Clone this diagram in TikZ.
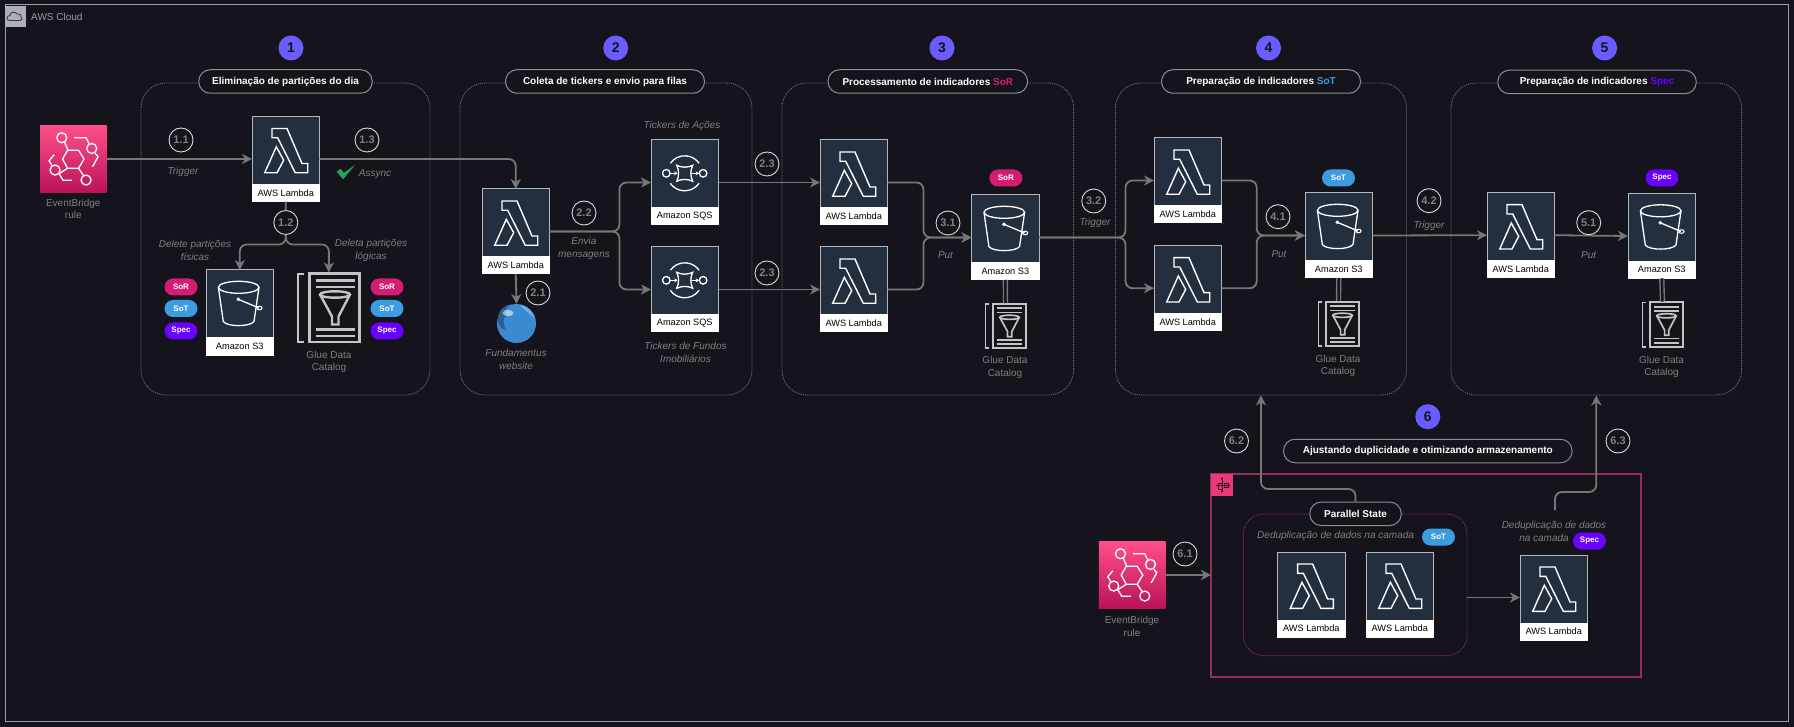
\documentclass[tikz,border=0pt]{standalone}
\usepackage{fontspec}
\setmainfont{Liberation Sans}
\usetikzlibrary{arrows.meta}
\definecolor{bgc}{HTML}{15131B}
\definecolor{darkc}{HTML}{232F3E}
\definecolor{conc}{HTML}{777777}
\definecolor{graytxt}{HTML}{808080}
\definecolor{sorc}{HTML}{D41D72}
\definecolor{sotc}{HTML}{3D9BE0}
\definecolor{specc}{HTML}{6A00FF}
\definecolor{purc}{HTML}{6A5CFF}
\definecolor{redc}{HTML}{96305A}
\definecolor{gluec}{HTML}{C4C4C4}
\definecolor{pinkt}{HTML}{FF4F8B}
\definecolor{pinkb}{HTML}{BC1356}
\definecolor{HTMLg}{HTML}{3B8AD0}
\definecolor{HTMLd}{HTML}{2A5F94}
\definecolor{HTMLl}{HTML}{6FB2E6}
\definecolor{HTMLc}{HTML}{2E9E5B}
\definecolor{HTMLz}{HTML}{6E6E6E}
\definecolor{HTMLp}{HTML}{8C8C8C}
\definecolor{HTMLn}{HTML}{D9D9D9}
\tikzset{
 x=1pt,y=-1pt,
 svcbox/.style={draw=white,fill=white,line width=1pt,minimum width=67.5pt,minimum height=85pt,inner sep=0pt,outer sep=0pt},
 svclab/.style={font=\fontsize{9.2}{10}\selectfont,text=black,inner sep=0pt},
 conn/.style={draw=conc,line width=1.8pt,rounded corners=7pt,-{Stealth[length=10pt,width=10pt,inset=3pt]}},
 connp/.style={draw=conc,line width=1.8pt,rounded corners=7pt},
 dbl/.style={draw=conc,line width=1.4pt,double=bgc,double distance=2.5pt},
 zone/.style={draw=HTMLz,line width=.9pt,dash pattern=on 1pt off 1pt,rounded corners=25pt,inner sep=0pt},
 pill/.style={draw=HTMLp,fill=bgc,line width=1pt,rounded corners=11.5pt,minimum height=23.5pt,inner sep=0pt,font=\fontsize{10}{12}\selectfont\bfseries,text=white},
 numc/.style={circle,draw=HTMLn,line width=.9pt,fill=bgc,minimum size=24pt,inner sep=0pt,font=\fontsize{11}{12}\selectfont\bfseries,text=graytxt},
 bigc/.style={circle,fill=purc,minimum size=25pt,inner sep=0pt,font=\fontsize{14}{14}\selectfont\bfseries,text=bgc},
 lab/.style={font=\fontsize{10}{12.5}\selectfont,text=graytxt,align=center,inner sep=0pt},
 ilab/.style={font=\fontsize{10}{13}\selectfont\itshape,text=graytxt,align=center,inner sep=0pt},
 tag/.style={rounded corners=8.5pt,minimum width=33pt,minimum height=17pt,inner sep=0pt,text=white,font=\fontsize{8}{9}\selectfont\bfseries},
 tagsor/.style={tag,fill=sorc},
 tagsot/.style={tag,fill=sotc},
 tagspec/.style={tag,fill=specc},
 pics/lambdaicon/.style={code={
  \draw[white,line width=1.4pt,line join=miter]
   (20,12)--(35,12)--(50,47)--(55.7,47)--(55.7,56.3)--(43.3,56.3)--(25.7,21.3)--(20,21.3)--cycle;
  \draw[white,line width=1.4pt,line join=miter]
   (24.3,30.3)--(12.7,56.3)--(25,56.3)--(31.7,43.7)--cycle;
 }},
 pics/bucketicon/.style={code={
  \draw[white,line width=1.3pt] (32.7,17.3) ellipse [x radius=20.3,y radius=6];
  \draw[white,line width=1.3pt] (12.4,17.3) -- (17.3,51.5) .. controls (21,57) and (44,57) .. (48,51.5) -- (53,17.3);
  \draw[white,line width=1.3pt] (32.3,29.3) -- (53,38);
  \fill[white] (32.3,29.3) circle (1.9);
  \draw[white,line width=1pt] (53.5,38) ellipse [x radius=2.6,y radius=1.8];
 }},
 pics/sqsicon/.style={code={
  \begin{scope}[shift={(33.7,33.3)}]
  \draw[white,line width=1.3pt] (-14.4,-10) arc[start angle=215,end angle=325,radius=17.6];
  \draw[white,line width=1.3pt] (14.4,10) arc[start angle=35,end angle=145,radius=17.6];
  \draw[white,line width=1.3pt] (-18.4,0) circle (3.8);
  \draw[white,line width=1.3pt] (18.4,0) circle (3.8);
  \draw[white,line width=1.3pt] (-8,-8) .. controls (-3,-5.5) and (3,-5.5) .. (8,-8) .. controls (5.5,-3) and (5.5,3) .. (8,8) .. controls (3,5.5) and (-3,5.5) .. (-8,8) .. controls (-5.5,3) and (-5.5,-3) .. cycle;
  \draw[white,line width=1.1pt,-{Stealth[length=3.5pt,width=4pt]}] (-14.4,0) -- (-7,0);
  \draw[white,line width=1.1pt,-{Stealth[length=3.5pt,width=4pt]}] (7,0) -- (14.4,0);
  \end{scope}
 }},
 pics/ebicon/.style={code={
  \fill[top color=pinkt,bottom color=pinkb] (0,0) rectangle (66.5,66.5);
  \begin{scope}[white,line width=1.3pt]
  \draw (22.5,33.3)--(27.5,24.5)--(38.5,24.5)--(44,33.3)--(38.5,42.5)--(27.5,42.5)--cycle;
  \draw (21.7,12) circle (5);
  \draw (51.7,22.7) circle (5);
  \draw (15,44.3) circle (5);
  \draw (46,54.3) circle (5);
  \draw (24.5,16.5)--(28,24.5);
  \draw (34,12)--(46,12)--(49,18);
  \draw (55,27.5)--(58,31)--(52.5,41);
  \draw (14,29)--(9,35)--(12,40);
  \draw (19,48)--(23,54.5)--(32,54.5);
  \draw (38.5,42.5)--(43.5,50);
  \draw (19,48)--(27.5,42.5);
  \end{scope}
 }},
 pics/glueicon/.style={code={
  \begin{scope}[gluec]
  \draw[line width=#1*2.4pt] (7.3,1.3)--(1.3,1.3)--(1.3,69.7)--(7.3,69.7);
  \draw[line width=#1*2.8pt] (13,1.4) rectangle (63.3,69.6);
  \draw[line width=#1*2.6pt] (19,8)--(58,8);
  \draw[line width=#1*2.6pt] (19,14.5)--(58,14.5);
  \draw[line width=#1*2.6pt] (19,57)--(58,57);
  \draw[line width=#1*2.6pt] (19,63.5)--(58,63.5);
  \draw[line width=#1*2.4pt] (38.5,22) ellipse [x radius=15,y radius=3.2];
  \draw[line width=#1*2.4pt] (23.5,22)--(35.5,44)--(35.5,52)--(42,52)--(42,44)--(53.5,22);
  \end{scope}
 }},
 pics/glueicon/.default=1,
}
% service block: name, left, top, label, icon
\newcommand{\svc}[5]{%
 \node[svcbox] (#1) at (#2+33.75,#3+42.5) {};
 \fill[darkc] (#1.north west) rectangle ([yshift=-67.5pt]#1.north east);
 \draw[white!72!black,line width=1pt] ([yshift=-67.5pt]#1.north west) -- (#1.north west) -- (#1.north east) -- ([yshift=-67.5pt]#1.north east);
 \node[svclab] (#1-l) at ([yshift=8.7pt]#1.south) {#4};
 \pic at (#1.north west) {#5};
}
\newcommand{\gluebig}[3]{%
 \node[minimum width=64.7pt,minimum height=71pt,inner sep=0pt,outer sep=0pt] (#1) at (#2+32.35,#3+35.5) {};
 \pic at (#1.north west) {glueicon=1};
}
\newcommand{\gluesmall}[3]{%
 \node[minimum width=42pt,minimum height=46.7pt,inner sep=0pt,outer sep=0pt] (#1) at (#2+21,#3+23.35) {};
 \pic[scale=.65] at (#1.north west) {glueicon=.7};
}
\begin{document}
\begin{tikzpicture}
\fill[bgc] (0,0) rectangle (1794,727);
\useasboundingbox (0,0) rectangle (1794,727);
% frame
\node[draw=white!62!black,line width=1pt,minimum width=1783.5pt,minimum height=716pt,inner sep=0pt,outer sep=0pt] (cloud) at (896.75,363) {};
\node[fill=white!62!darkc,minimum size=21pt,inner sep=0pt] (cloudicon) at (15.2,16.2) {};
\draw[bgc!70!gray,line width=.8pt] (9.5,20.5) .. controls (6,20.5) and (6,15.5) .. (10,15.5) .. controls (10,12) and (15,11) .. (17,14) .. controls (20,13.5) and (22,16) .. (21,17) .. controls (23,19) and (22,20.5) .. (20,20.5) -- cycle;
\node[anchor=west,font=\fontsize{10}{11}\selectfont,text=white!62!black,inner sep=0pt] (cloudtxt) at (31,16.5) {AWS Cloud};
% zones
\node[zone,minimum width=289pt,minimum height=312pt] (z1) at (285.5,239) {};
\node[zone,minimum width=292pt,minimum height=312pt] (z2) at (606,239) {};
\node[zone,minimum width=291.7pt,minimum height=312pt] (z3) at (927.8,239) {};
\node[zone,minimum width=291pt,minimum height=312pt] (z4) at (1261,239) {};
\node[zone,minimum width=290.7pt,minimum height=312pt] (z5) at (1596.3,239) {};
% red state machine
\node[draw=redc,line width=1.2pt,minimum width=430pt,minimum height=203pt,inner sep=0pt,outer sep=0pt] (sm) at (1426,575.5) {};
\node[draw=redc,line width=.9pt,dash pattern=on 1pt off 1pt,rounded corners=20pt,minimum width=223.5pt,minimum height=141.7pt,inner sep=0pt] (par) at (1355.2,584.8) {};
\node[fill=pinkt!65!pinkb,minimum width=22pt,minimum height=22pt,inner sep=0pt] (smicon) at (1222,485) {};
\begin{scope}[bgc!80!pinkb,line width=.7pt]
\draw (1218,483) rectangle (1222,489);
\draw (1224,483) rectangle (1228,487);
\draw (1222,478.5)--(1222,491.5);
\draw (1216,485)--(1229.5,485);
\fill (1222,478.5) circle (1.1);
\fill (1222,491.5) circle (1.1);
\end{scope}
% big numbers
\node[bigc] (n1) at (291,48) {1};
\node[bigc] (n2) at (615.7,48) {2};
\node[bigc] (n3) at (942,48) {3};
\node[bigc] (n4) at (1268.5,48) {4};
\node[bigc] (n5) at (1604.6,48) {5};
\node[bigc] (n6) at (1427.8,416.7) {6};
% event bridge
\node[minimum size=66.5pt,inner sep=0pt,outer sep=0pt] (eb1) at (73.3,159) {};
\pic at (eb1.north west) {ebicon};
\node[lab] (eb1l) at (73.3,209) {EventBridge\\rule};
\node[minimum size=66.5pt,inner sep=0pt,outer sep=0pt] (eb2) at (1132,575) {};
\pic at (eb2.north west) {ebicon};
\node[lab] (eb2l) at (1132,626.5) {EventBridge\\rule};
% services
\svc{lam1}{252}{116.5}{AWS Lambda}{lambdaicon}
\svc{s3a}{206}{270}{Amazon S3}{bucketicon}
\svc{lam2}{482}{189}{AWS Lambda}{lambdaicon}
\svc{sqs1}{651}{140}{Amazon SQS}{sqsicon}
\svc{sqs2}{651}{247}{Amazon SQS}{sqsicon}
\svc{lam3a}{820}{140}{AWS Lambda}{lambdaicon}
\svc{lam3b}{820}{247}{AWS Lambda}{lambdaicon}
\svc{s3b}{971.6}{195}{Amazon S3}{bucketicon}
\svc{lam4a}{1154}{138}{AWS Lambda}{lambdaicon}
\svc{lam4b}{1154}{245.7}{AWS Lambda}{lambdaicon}
\svc{s3c}{1305}{193}{Amazon S3}{bucketicon}
\svc{lam5}{1487}{192.7}{AWS Lambda}{lambdaicon}
\svc{s3d}{1628}{193.5}{Amazon S3}{bucketicon}
\svc{lam6a}{1277.6}{552}{AWS Lambda}{lambdaicon}
\svc{lam6b}{1366}{552}{AWS Lambda}{lambdaicon}
\svc{lam6c}{1520}{555}{AWS Lambda}{lambdaicon}
% glue
\gluebig{g1}{296.5}{272.5}
\gluesmall{g3}{984.5}{303}
\gluesmall{g4}{1317.5}{301}
\gluesmall{g5}{1641.5}{301.5}
\node[lab] (g1l) at (329,362) {Glue Data\\Catalog};
\node[lab] (g3l) at (1005,367.5) {Glue Data\\Catalog};
\node[lab] (g4l) at (1338,366) {Glue Data\\Catalog};
\node[lab] (g5l) at (1661.5,367) {Glue Data\\Catalog};
% globe
\node[circle,minimum size=39pt,inner sep=0pt,outer sep=0pt] (web) at (516.5,323.5) {};
\fill[HTMLg] (web) circle (19.5);
\fill[HTMLd] (498,318) .. controls (499,309) and (505,304.5) .. (512,304) .. controls (505,307) and (504,312) .. (507,316) .. controls (502,316) and (503,325) .. (506,330) .. controls (501,330) and (498,325) .. (498,318) -- cycle;
\fill[HTMLl] (520,305) .. controls (528,306) and (533,312) .. (535,319) .. controls (530,313) and (525,311) .. (520,305) -- cycle;
\fill[white,opacity=.55] (508,313) ellipse [x radius=5.5,y radius=3.2];
\node[ilab] (webl) at (516,359.5) {Fundamentus\\website};
% pills
\node[pill,minimum width=173.5pt] (p1) at (285.5,81.5) {Eliminação de partições do dia};
\node[pill,minimum width=199pt] (p2) at (605,81.5) {Coleta de tickers e envio para filas};
\node[pill,minimum width=199.5pt] (p3) at (927.8,81.5) {Processamento de indicadores \textcolor{sorc}{SoR}};
\node[pill,minimum width=199pt] (p4) at (1261,81.5) {Preparação de indicadores \textcolor{sotc}{SoT}};
\node[pill,minimum width=198.5pt] (p5) at (1597,82) {Preparação de indicadores \textcolor{specc}{Spec}};
\node[pill,minimum width=288.5pt] (p6) at (1427.8,451) {Ajustando duplicidade e otimizando armazenamento};
\node[pill,minimum width=91.5pt] (p7) at (1355.5,513.8) {Parallel State};
% tags
\node[tagsor] (t1a) at (181,287) {SoR};
\node[tagsot] (t1b) at (181,308.5) {SoT};
\node[tagspec] (t1c) at (181,331) {Spec};
\node[tagsor] (t1d) at (387,287) {SoR};
\node[tagsot] (t1e) at (387,308.5) {SoT};
\node[tagspec] (t1f) at (387,331) {Spec};
\node[tagsor] (t3) at (1005.8,178) {SoR};
\node[tagsot] (t4) at (1338.5,178) {SoT};
\node[tagspec] (t5) at (1662,178) {Spec};
\node[tagsot] (t6a) at (1438.5,537) {SoT};
\node[tagspec] (t6b) at (1589.5,541) {Spec};
% junction coordinates
\coordinate (j12) at (285.8,244.5);
\coordinate (j22) at (619.4,231.5);
\coordinate (j31) at (923.5,237.5);
\coordinate (j32) at (1125.5,237.5);
\coordinate (j41) at (1256.7,235.5);
\coordinate (j62) at (1355.5,489);
\coordinate (s63) at (1555,510);
\coordinate (j63) at (1555,492);
% connectors
\draw[conn] (eb1.east) -- (lam1.west);
\draw[conn] (lam1.east) -| (lam2.north);
\node[numc] (c12) at (285.8,222.5) {1.2};
\draw[connp] (lam1.south) -- (c12.north);
\draw[conn] (c12.south) -- (j12) -| (s3a.north);
\draw[conn] (c12.south) -- (j12) -| (g1.north);
\draw[conn] (lam2.south) -- (web.north);
\draw[conn] (lam2.east) -- (j22) |- (sqs1.west);
\draw[conn] (lam2.east) -- (j22) |- (sqs2.west);
\draw[conn] (sqs1.east) -- (lam3a.west);
\draw[conn] (sqs2.east) -- (lam3b.west);
\draw[conn] (lam3a.east) -| (j31) -- (s3b.west);
\draw[conn] (lam3b.east) -| (j31) -- (s3b.west);
\draw[conn] (s3b.east) -- (j32) |- (lam4a.west);
\draw[conn] (s3b.east) -- (j32) |- (lam4b.west);
\draw[conn] (lam4a.east) -| (j41) -- (s3c.west);
\draw[conn] (lam4b.east) -| (j41) -- (s3c.west);
\draw[conn] (s3c.east) -- (lam5.west);
\draw[conn] (lam5.east) -- (s3d.west);
\draw[dbl] (s3b.south) -- (g3.north);
\draw[dbl] (s3c.south) -- (g4.north);
\draw[dbl] (s3d.south) -- (g5.north);
\draw[conn] (eb2.east) -- (sm.west |- eb2.east);
\draw[conn] (par.east |- lam6c.center) -- (lam6c.west);
\draw[conn] (p7.north) -- (j62) -| (z4.south);
\draw[conn] (s63) -- (j63) -| (z5.south);
% number circles
\node[numc] (c11) at (181,140) {1.1};
\node[numc] (c13) at (367,140) {1.3};
\node[numc] (c21) at (538,293) {2.1};
\node[numc] (c22) at (584,213) {2.2};
\node[numc] (c23a) at (767,164) {2.3};
\node[numc] (c23b) at (767,273) {2.3};
\node[numc] (c31) at (948,223) {3.1};
\node[numc] (c32) at (1093.7,201) {3.2};
\node[numc] (c41) at (1278,216.7) {4.1};
\node[numc] (c42) at (1429,200.7) {4.2};
\node[numc] (c51) at (1588.7,222.7) {5.1};
\node[numc] (c61) at (1185,554) {6.1};
\node[numc] (c62) at (1236.5,441) {6.2};
\node[numc] (c63) at (1618,441) {6.3};
% italic labels
\node[ilab] (a1) at (183,172) {Trigger};
\fill[HTMLc] (336.7,171.7) -- (343,179.3) -- (355,165) -- (344,172.8) -- (340.5,168.8) -- cycle;
\node[ilab] (a2) at (375,174) {Assync};
\node[ilab] (a3) at (195,250.5) {Delete partições\\físicas};
\node[ilab] (a4) at (371,250.5) {Deleta partições\\lógicas};
\node[ilab] (a5) at (584,248.5) {Envia\\mensagens};
\node[ilab] (a6) at (682,126) {Tickers de Ações};
\node[ilab] (a7) at (685.5,352.5) {Tickers de Fundos\\Imobiliários};
\node[ilab] (a8) at (945.5,255) {Put};
\node[ilab] (a9) at (1095,223) {Trigger};
\node[ilab] (a10) at (1279,253.7) {Put};
\node[ilab] (a11) at (1429,225.7) {Trigger};
\node[ilab] (a12) at (1588.7,254.7) {Put};
\node[ilab] (a13) at (1335.6,535.7) {Deduplicação de dados na camada};
\node[ilab] (a14) at (1554,525.7) {Deduplicação de dados};
\node[ilab] (a15) at (1544,537.7) {na camada};
\end{tikzpicture}
\end{document}
